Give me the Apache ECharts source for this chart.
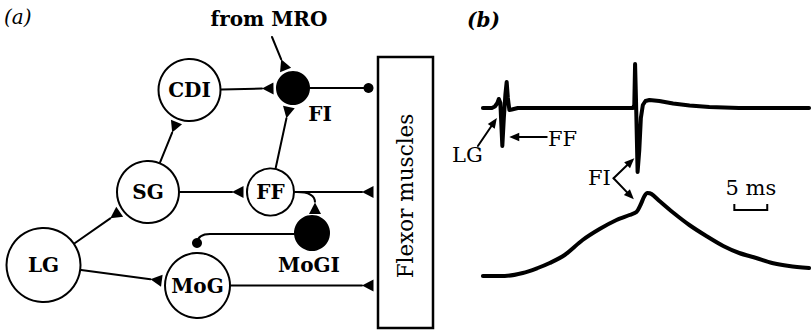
<!DOCTYPE html>
<html><head><meta charset="utf-8">
<script src="https://cdn.jsdelivr.net/npm/echarts@6/dist/echarts.min.js"></script>
<style>html,body{margin:0;padding:0;background:#fff}#c{width:812px;height:330px}</style>
</head><body><div id="c"></div>
<script>
// ---------- DATA ----------
// Panel (a): circuit topology
const panelLabels = ['(a)', '(b)'];
const neuronNames = ['LG', 'SG', 'CDI', 'FI', 'FF', 'MoGI', 'MoG'];
const synapseFrom = ['LG', 'LG', 'SG', 'SG', 'CDI', 'FF', 'MRO', 'FI', 'FF', 'MoG', 'FF', 'MoGI'];
const synapseTo   = ['SG', 'MoG', 'CDI', 'FF', 'FI', 'FI', 'FI', 'muscle', 'muscle', 'muscle', 'MoGI', 'MoG'];
const synapseSign = ['+', '+', '+', '+', '+', '+', '+', '-', '+', '+', '+', '-'];
const effectorName = 'Flexor muscles';
const inputName = 'from MRO';
// Panel (b): recordings (time in ms, amplitude in arbitrary units)
const topTraceMs  = [0, 1.36, 1.82, 2.2, 2.42, 2.65, 2.95, 3.18, 3.41, 3.61, 3.79, 4.02, 4.39, 5.3, 22.8, 23.0, 23.12, 23.26, 23.5, 23.76, 24.0, 24.3, 24.7, 25.3, 26.8, 28.9, 31.4, 34.4, 38.9, 49.55];
const topTraceAmp = [0, 0, 1.5, 5, 9, 5, -38, -10, 13, 26, 10, -2, -1.5, 0, 0, 3, 44, 8, -64, -42, -10, 3, 7, 8, 7, 4.5, 2.5, 1, 0, 0];
const bottomTraceMs  = [0, 3.33, 6.06, 8.33, 10.15, 12.42, 15.15, 17.73, 20.3, 22.27, 23.33, 23.94, 24.55, 25.0, 25.61, 26.82, 28.79, 31.36, 33.94, 36.52, 38.94, 41.52, 43.94, 46.52, 49.55];
const bottomTraceAmp = [-168, -168, -165, -160, -155, -147, -132, -121, -112, -107, -104, -97, -88, -85, -86, -93, -104, -117, -128, -138, -145, -150, -155, -158, -160];
const traceMarkers = ['LG', 'FF', 'FI'];
const scaleBarMs = 5;
const scaleBarLabel = '5 ms';

// ---------- LAYOUT ----------
const layoutA = {
  neurons: {
    LG: {x: 43.5, y: 265, r: 38},
    SG: {x: 148, y: 192, r: 32},
    CDI: {x: 189.5, y: 90, r: 32},
    FI: {x: 293, y: 88, r: 17, filled: true, label: [320, 113.5]},
    FF: {x: 270.5, y: 192, r: 24.5},
    MoGI: {x: 312, y: 233, r: 18, filled: true, label: [309, 264.5]},
    MoG: {x: 197.5, y: 285.5, r: 33.5}
  },
  input: {x: 272, y: 37, label: [269, 18.5]},
  muscle: {x0: 378, y0: 57, x1: 433, y1: 328, label: [405.5, 196]},
  routes: {
    'FF>MoGI': [[297, 192], [315, 192], [315, 202.5]],
    'MoGI>MoG': [[294, 234], [210, 234], [198, 234], [197, 243]]
  }
};
const layoutB = {
  labels: {LG: [-2.35, -47], FF: [12.1, -31], FI: [17.7, -70.3], scale: [40.7, -80]},
  arrows: [
    {from: [-0.76, -38], to: [2.12, -10]},
    {from: [9.7, -29], to: [4.0, -29]},
    {from: [19.85, -70.3], to: [23.0, -50.3]},
    {from: [19.85, -70.3], to: [22.93, -91.3]}
  ],
  scaleBar: {t0: 38.2, vTop: -96, vBottom: -102}
};
const SERIF = '"DejaVu Serif", serif';
const GAP = 2.5, MUSCLE_GAP = 4.5, TRI_LEN = 11.5, TRI_HALF = 6, DOT_R = 5;

function txt(p, text, size, weight, extra) {
  return Object.assign({
    type: 'text', x: p[0], y: p[1],
    style: {text: text, fill: '#000', textFill: '#000', fontSize: size, fontFamily: SERIF, fontWeight: weight || 'normal',
      textAlign: 'center', align: 'center', textVerticalAlign: 'middle', verticalAlign: 'middle'}
  }, extra || {});
}
function seg(a, b, w) {
  return {type: 'line', shape: {x1: a[0], y1: a[1], x2: b[0], y2: b[1]}, style: {stroke: '#000', lineWidth: w || 2, lineCap: 'round'}};
}
function norm(v) { const l = Math.hypot(v[0], v[1]) || 1; return [v[0] / l, v[1] / l]; }
function tri(tip, dir, len, half) {
  const b = [tip[0] + dir[0] * len, tip[1] + dir[1] * len];
  const pr = [-dir[1], dir[0]];
  return {type: 'polygon', shape: {points: [tip, [b[0] + pr[0] * half, b[1] + pr[1] * half], [b[0] - pr[0] * half, b[1] - pr[1] * half]]}, style: {fill: '#000'}};
}

function renderNeuron(params, api) {
  const name = neuronNames[api.value(0)];
  const n = layoutA.neurons[name];
  const c = api.coord([n.x, n.y]);
  const r = api.size([n.r, n.r])[0];
  const ch = [{type: 'circle', shape: {cx: c[0], cy: c[1], r: n.filled ? r : r - 1},
    style: n.filled ? {fill: '#000'} : {fill: '#fff', stroke: '#000', lineWidth: 2}}];
  ch.push(txt(n.label ? api.coord(n.label) : c, name, 20, 'bold'));
  return {type: 'group', children: ch};
}

function renderSynapse(params, api) {
  const i = api.value(0);
  const from = synapseFrom[i], to = synapseTo[i], sign = synapseSign[i];
  const els = [];
  let tip, dir;
  const route = layoutA.routes[from + '>' + to];
  if (route) {
    const pts = route.map(p => api.coord(p));
    for (let k = 0; k < pts.length - 3; k++) els.push(seg(pts[k], pts[k + 1]));
    const a = pts[pts.length - 3], cp = pts[pts.length - 2], e = pts[pts.length - 1];
    els.push({type: 'bezierCurve', shape: {x1: a[0], y1: a[1], x2: e[0], y2: e[1], cpx1: cp[0], cpy1: cp[1]},
      style: {stroke: '#000', lineWidth: 2, fill: null}});
    dir = norm([e[0] - cp[0], e[1] - cp[1]]);
    tip = e;
  } else {
    const src = layoutA.neurons[from];
    let s, edge;
    if (to === 'muscle') {
      const c = api.coord([src.x, src.y]);
      const r = api.size([src.r, src.r])[0];
      s = [c[0] + r, c[1]];
      dir = [1, 0];
      const m = api.coord([layoutA.muscle.x0, src.y]);
      edge = [m[0] - MUSCLE_GAP, m[1]];
    } else {
      const t = layoutA.neurons[to];
      const tc = api.coord([t.x, t.y]);
      const tr = api.size([t.r, t.r])[0];
      const sc = src ? api.coord([src.x, src.y]) : api.coord([layoutA.input.x, layoutA.input.y]);
      const sr = src ? api.size([src.r, src.r])[0] : 0;
      dir = norm([tc[0] - sc[0], tc[1] - sc[1]]);
      s = [sc[0] + dir[0] * sr, sc[1] + dir[1] * sr];
      edge = [tc[0] - dir[0] * (tr + GAP), tc[1] - dir[1] * (tr + GAP)];
    }
    const ml = sign === '+' ? TRI_LEN : DOT_R;
    tip = [edge[0] - dir[0] * ml, edge[1] - dir[1] * ml];
    els.push(seg(s, tip));
  }
  if (sign === '+') els.push(tri(tip, dir, TRI_LEN, TRI_HALF));
  else els.push({type: 'circle', shape: {cx: tip[0], cy: tip[1], r: DOT_R}, style: {fill: '#000'}});
  return {type: 'group', children: els};
}

function renderMuscle(params, api) {
  const m = layoutA.muscle;
  const p0 = api.coord([m.x0, m.y0]), p1 = api.coord([m.x1, m.y1]);
  return {type: 'group', children: [
    {type: 'rect', shape: {x: p0[0], y: p0[1], width: p1[0] - p0[0], height: p1[1] - p0[1]},
      style: {fill: '#fff', stroke: '#000', lineWidth: 2.5}},
    txt(api.coord(m.label), effectorName, 21.5, 'normal', {rotation: Math.PI / 2}),
    txt(api.coord(layoutA.input.label), inputName, 20, 'bold')
  ]};
}

function renderAnnot(params, api) {
  const els = [];
  layoutB.arrows.forEach(a => {
    const f = api.coord(a.from), t = api.coord(a.to);
    const d = norm([t[0] - f[0], t[1] - f[1]]);
    const back = [-d[0], -d[1]];
    const base = [t[0] - d[0] * 9, t[1] - d[1] * 9];
    els.push(seg(f, base, 2));
    els.push(tri(t, back, 10, 4.2));
  });
  traceMarkers.forEach(n => els.push(txt(api.coord(layoutB.labels[n]), n, 21, 'normal')));
  const sb = layoutB.scaleBar;
  const a = api.coord([sb.t0, sb.vTop]), b = api.coord([sb.t0, sb.vBottom]);
  const c = api.coord([sb.t0 + scaleBarMs, sb.vBottom]), d = api.coord([sb.t0 + scaleBarMs, sb.vTop]);
  els.push({type: 'polyline', shape: {points: [a, b, c, d]}, style: {stroke: '#000', lineWidth: 2, fill: null}});
  els.push(txt(api.coord(layoutB.labels.scale), scaleBarLabel, 21, 'normal'));
  return {type: 'group', children: els};
}

const chart = echarts.init(document.getElementById('c'), null, {renderer: 'svg'});
chart.setOption({
  animation: false,
  backgroundColor: '#fff',
  color: ['#000'],
  title: [
    {text: panelLabels[0], left: 4, top: 7, padding: 0, textStyle: {fontFamily: SERIF, fontStyle: 'italic', fontWeight: 'normal', fontSize: 20, color: '#000'}},
    {text: panelLabels[1], left: 467, top: 10, padding: 0, textStyle: {fontFamily: SERIF, fontStyle: 'italic', fontWeight: 'bold', fontSize: 20, color: '#000'}}
  ],
  grid: [
    {left: 0, top: 0, width: 440, height: 330},
    {left: 450, top: 0, width: 363, height: 330}
  ],
  xAxis: [
    {type: 'value', gridIndex: 0, min: 0, max: 440, show: false},
    {type: 'value', gridIndex: 1, min: -5, max: 50, show: false}
  ],
  yAxis: [
    {type: 'value', gridIndex: 0, min: 0, max: 330, inverse: true, show: false},
    {type: 'value', gridIndex: 1, min: -222, max: 108, show: false}
  ],
  series: [
    {type: 'custom', xAxisIndex: 0, yAxisIndex: 0, silent: true, renderItem: renderSynapse,
      data: synapseFrom.map((_, i) => [i, 0])},
    {type: 'custom', xAxisIndex: 0, yAxisIndex: 0, silent: true, renderItem: renderMuscle, data: [[0, 0]]},
    {type: 'custom', xAxisIndex: 0, yAxisIndex: 0, silent: true, renderItem: renderNeuron,
      data: neuronNames.map((_, i) => [i, 0])},
    {type: 'line', xAxisIndex: 1, yAxisIndex: 1, silent: true, showSymbol: false, symbol: 'none',
      data: topTraceMs.map((t, i) => [t, topTraceAmp[i]]),
      lineStyle: {color: '#000', width: 4, cap: 'round', join: 'round'}},
    {type: 'line', xAxisIndex: 1, yAxisIndex: 1, silent: true, showSymbol: false, symbol: 'none', smooth: 0.3,
      data: bottomTraceMs.map((t, i) => [t, bottomTraceAmp[i]]),
      lineStyle: {color: '#000', width: 4, cap: 'round', join: 'round'}},
    {type: 'custom', xAxisIndex: 1, yAxisIndex: 1, silent: true, renderItem: renderAnnot, data: [[0, 0]]}
  ]
});
</script></body></html>
